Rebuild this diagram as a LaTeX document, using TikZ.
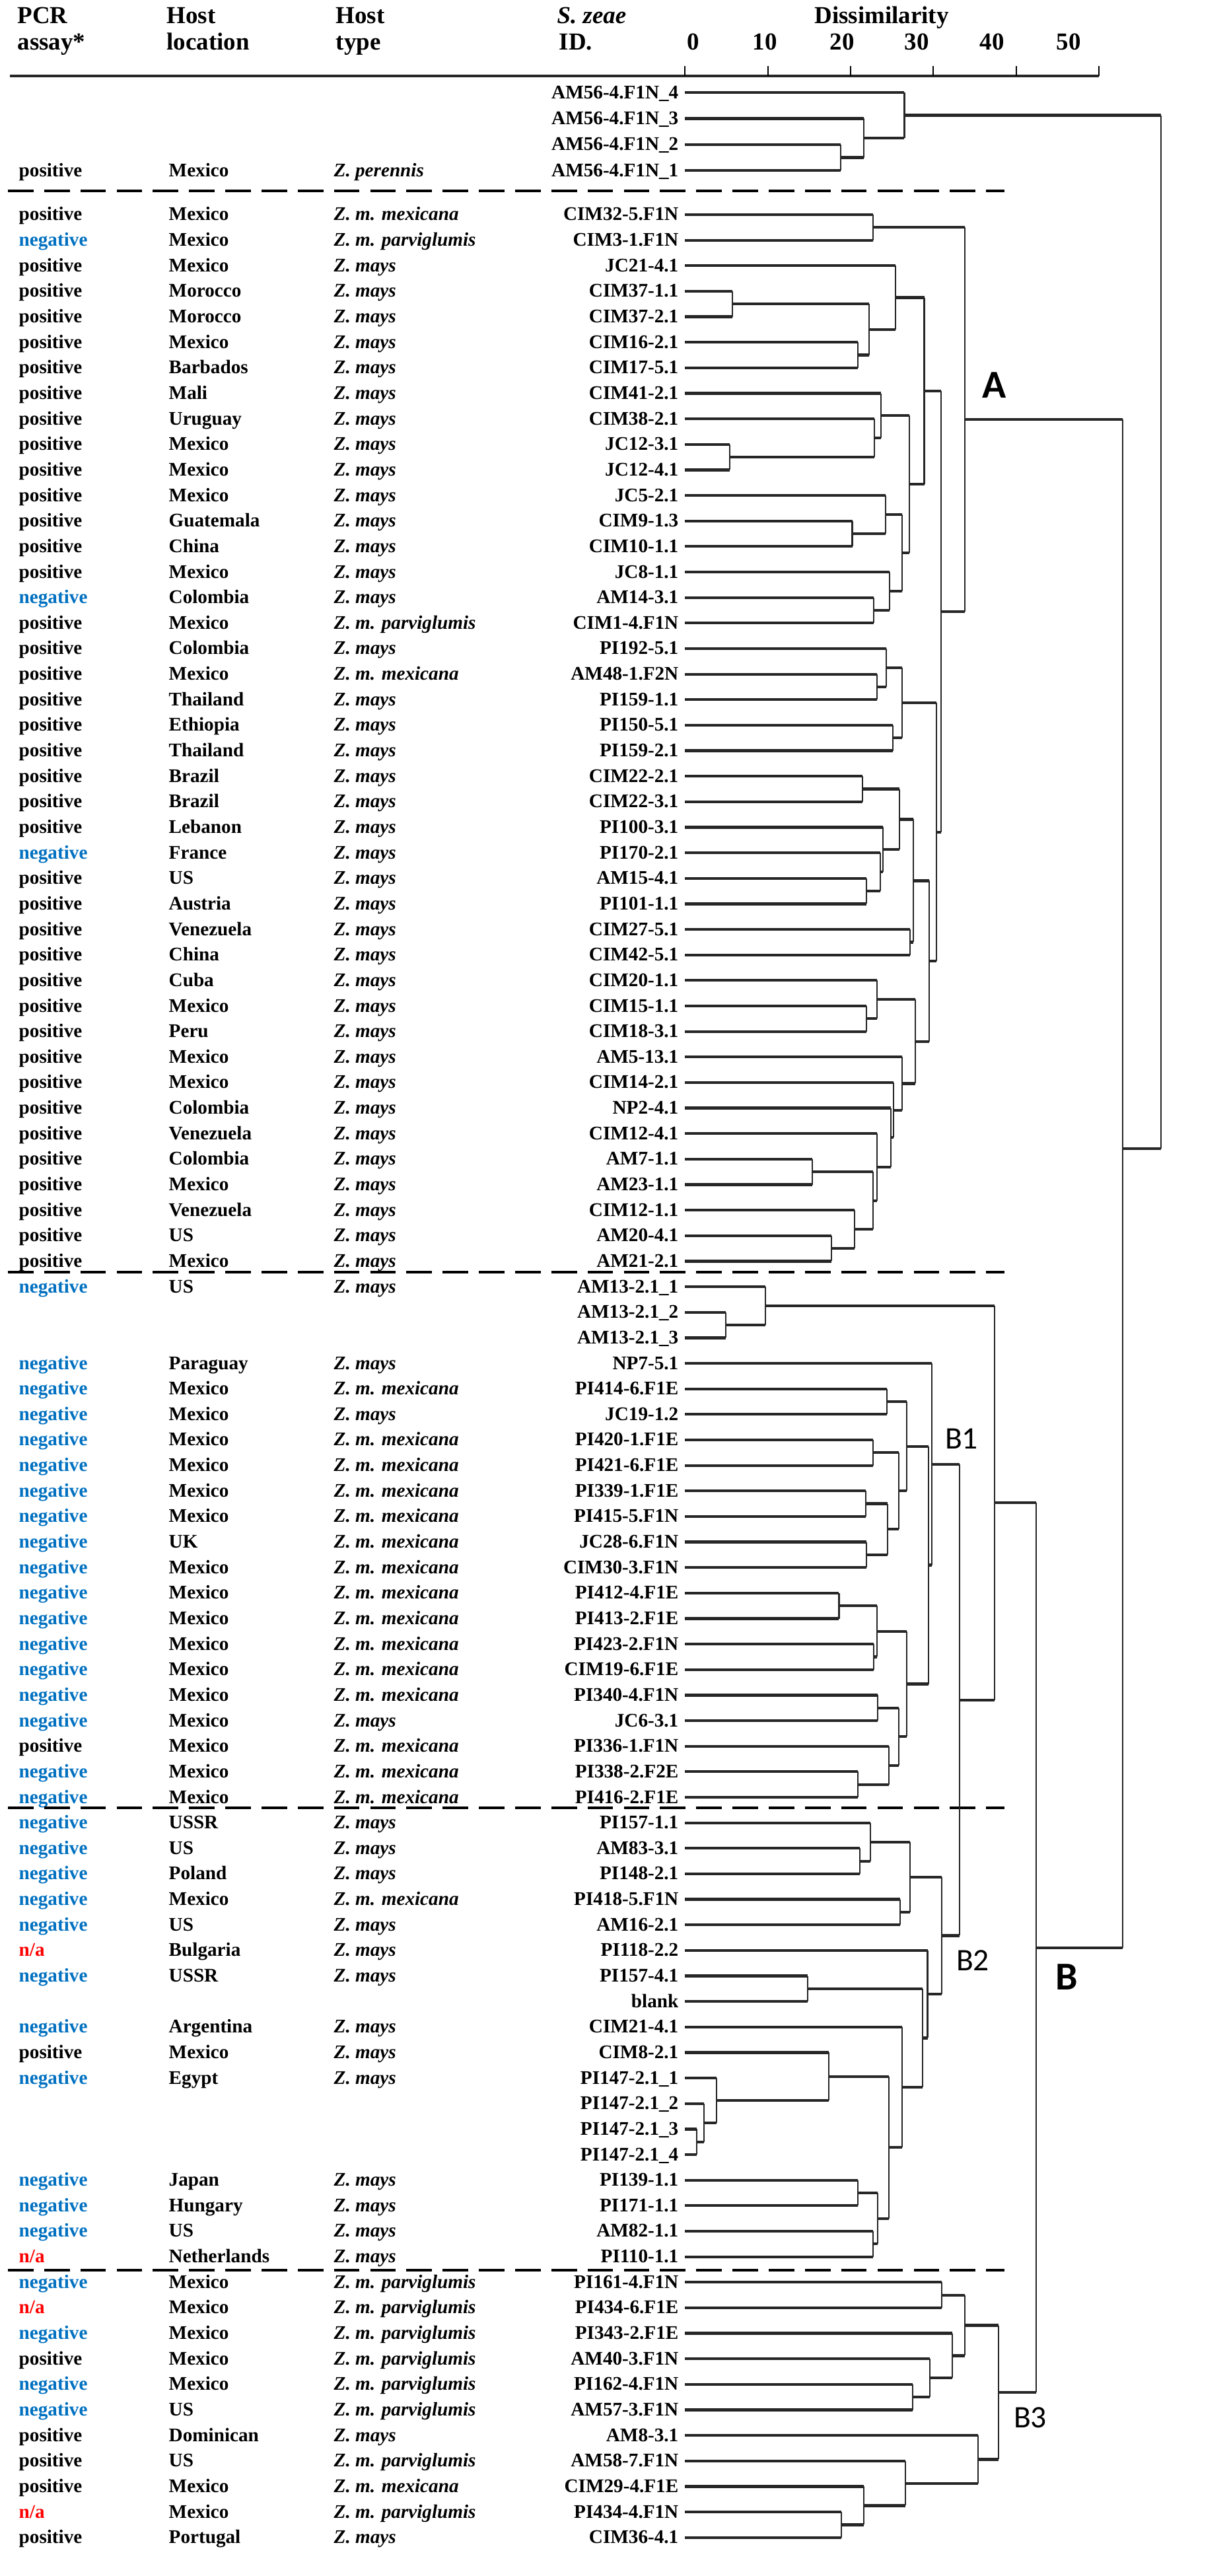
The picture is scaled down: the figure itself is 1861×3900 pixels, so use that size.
\documentclass[tikz,border=0pt]{standalone}
\usepackage{fontspec}
\setmainfont{Liberation Serif}
\newfontfamily\clusterFont{Carlito}
\usepackage{tikz}
\usetikzlibrary{calc}
\tikzstyle{dendro} = [x = 0.01cm, y = -0.01cm]
\definecolor{negBlue}{RGB}{0,112,192}
\definecolor{naRed}{RGB}{255,0,0}
\tikzstyle{branchStyle} = [color=black!85, line width=1.2pt]
\tikzstyle{stemStyle} = [color=black!85, line width=0.6pt]
\tikzstyle{sepLine} = [line width=1.3pt, dash pattern=on 11pt off 4.6pt]
\tikzstyle{axisLine} = [color=black!85, line width=1.4pt]
\tikzstyle{tickLine} = [line width=0.6pt]
\tikzstyle{headText} = [font=\fontsize{10.5}{12}\selectfont\bfseries, inner sep=0pt, anchor=base west]
\tikzstyle{cellText} = [font=\fontsize{8.3}{10}\selectfont\bfseries, inner sep=0pt, anchor=base west]
\tikzstyle{idText} = [cellText, anchor=base east]
\tikzstyle{clusterBig} = [font=\clusterFont\fontsize{17}{20}\selectfont\bfseries]
\tikzstyle{clusterSmall} = [font=\clusterFont\fontsize{13.5}{16}\selectfont]
\newcommand{\ux}[1]{1037.4+12.53*#1}
\newcommand{\assayp}{positive}
\newcommand{\assayn}{\color{negBlue}negative}
\newcommand{\assaya}{\color{naRed}n/a}
\newcommand{\hostm}{\textit{Z. mays}}
\newcommand{\hostx}{\textit{Z. m. mexicana}}
\newcommand{\hostg}{\textit{Z. m. parviglumis}}
\newcommand{\hoste}{\textit{Z. perennis}}
% #2 new cluster, #3 and #4 children, #5 dissimilarity, #1 where the stem is left
\newcommand{\merge}[5][0.5]{
  \coordinate (mid) at ($(#3)!#1!(#4)$);
  \coordinate (col) at ({\ux{#5}},0);
  \coordinate (#2) at (mid -| col);
  \draw [branchStyle] (#3) -- (#3 -| col) (#4 -| col) -- (#4);
  \draw [stemStyle] (#3 -| col) -- (#4 -| col);
}

\begin{document}
\begin{tikzpicture}[dendro]
  \useasboundingbox (0,0) rectangle (1861,3900);

  % header
  \node[headText] (hPcr) at (26,36) {PCR};
  \node[headText] (hAssay) at (26,76) {assay*};
  \node[headText] (hHost) at (252,36) {Host};
  \node[headText] (hLoc) at (252,76) {location};
  \node[headText] (hHostT) at (508,36) {Host};
  \node[headText] (hType) at (508,76) {type};
  \node[headText] (hZeae) at (843,36) {\textit{S. zeae}};
  \node[headText] (hId) at (846,76) {ID.};
  \node[headText, anchor=base] (hDis) at (1335,36) {Dissimilarity};
  \draw [axisLine] (15,115) -- ({\ux{50}},115);
  \foreach \t in {0,10,...,50}
    \draw [tickLine] ({\ux{\t}},100) -- ({\ux{\t}},115);
  \foreach \t/\lx in {0/1050,10/1158,20/1275,30/1388,40/1502,50/1618}
    \node[headText, anchor=base] (num\t) at (\lx,76) {\t};

  % rows
  \foreach \n/\pcr/\loc/\host/\sid in {
    4/p/Mexico/e/AM56-4.F1N\_1,
    5/p/Mexico/x/CIM32-5.F1N,
    6/n/Mexico/g/CIM3-1.F1N,
    7/p/Mexico/m/JC21-4.1,
    8/p/Morocco/m/CIM37-1.1,
    9/p/Morocco/m/CIM37-2.1,
    10/p/Mexico/m/CIM16-2.1,
    11/p/Barbados/m/CIM17-5.1,
    12/p/Mali/m/CIM41-2.1,
    13/p/Uruguay/m/CIM38-2.1,
    14/p/Mexico/m/JC12-3.1,
    15/p/Mexico/m/JC12-4.1,
    16/p/Mexico/m/JC5-2.1,
    17/p/Guatemala/m/CIM9-1.3,
    18/p/China/m/CIM10-1.1,
    19/p/Mexico/m/JC8-1.1,
    20/n/Colombia/m/AM14-3.1,
    21/p/Mexico/g/CIM1-4.F1N,
    22/p/Colombia/m/PI192-5.1,
    23/p/Mexico/x/AM48-1.F2N,
    24/p/Thailand/m/PI159-1.1,
    25/p/Ethiopia/m/PI150-5.1,
    26/p/Thailand/m/PI159-2.1,
    27/p/Brazil/m/CIM22-2.1,
    28/p/Brazil/m/CIM22-3.1,
    29/p/Lebanon/m/PI100-3.1,
    30/n/France/m/PI170-2.1,
    31/p/US/m/AM15-4.1,
    32/p/Austria/m/PI101-1.1,
    33/p/Venezuela/m/CIM27-5.1,
    34/p/China/m/CIM42-5.1,
    35/p/Cuba/m/CIM20-1.1,
    36/p/Mexico/m/CIM15-1.1,
    37/p/Peru/m/CIM18-3.1,
    38/p/Mexico/m/AM5-13.1,
    39/p/Mexico/m/CIM14-2.1,
    40/p/Colombia/m/NP2-4.1,
    41/p/Venezuela/m/CIM12-4.1,
    42/p/Colombia/m/AM7-1.1,
    43/p/Mexico/m/AM23-1.1,
    44/p/Venezuela/m/CIM12-1.1,
    45/p/US/m/AM20-4.1,
    46/p/Mexico/m/AM21-2.1,
    47/n/US/m/AM13-2.1\_1,
    50/n/Paraguay/m/NP7-5.1,
    51/n/Mexico/x/PI414-6.F1E,
    52/n/Mexico/m/JC19-1.2,
    53/n/Mexico/x/PI420-1.F1E,
    54/n/Mexico/x/PI421-6.F1E,
    55/n/Mexico/x/PI339-1.F1E,
    56/n/Mexico/x/PI415-5.F1N,
    57/n/UK/x/JC28-6.F1N,
    58/n/Mexico/x/CIM30-3.F1N,
    59/n/Mexico/x/PI412-4.F1E,
    60/n/Mexico/x/PI413-2.F1E,
    61/n/Mexico/x/PI423-2.F1N,
    62/n/Mexico/x/CIM19-6.F1E,
    63/n/Mexico/x/PI340-4.F1N,
    64/n/Mexico/m/JC6-3.1,
    65/p/Mexico/x/PI336-1.F1N,
    66/n/Mexico/x/PI338-2.F2E,
    67/n/Mexico/x/PI416-2.F1E,
    68/n/USSR/m/PI157-1.1,
    69/n/US/m/AM83-3.1,
    70/n/Poland/m/PI148-2.1,
    71/n/Mexico/x/PI418-5.F1N,
    72/n/US/m/AM16-2.1,
    73/a/Bulgaria/m/PI118-2.2,
    74/n/USSR/m/PI157-4.1,
    76/n/Argentina/m/CIM21-4.1,
    77/p/Mexico/m/CIM8-2.1,
    78/n/Egypt/m/PI147-2.1\_1,
    82/n/Japan/m/PI139-1.1,
    83/n/Hungary/m/PI171-1.1,
    84/n/US/m/AM82-1.1,
    85/a/Netherlands/m/PI110-1.1,
    86/n/Mexico/g/PI161-4.F1N,
    87/a/Mexico/g/PI434-6.F1E,
    88/n/Mexico/g/PI343-2.F1E,
    89/p/Mexico/g/AM40-3.F1N,
    90/n/Mexico/g/PI162-4.F1N,
    91/n/US/g/AM57-3.F1N,
    92/p/Dominican/m/AM8-3.1,
    93/p/US/g/AM58-7.F1N,
    94/p/Mexico/x/CIM29-4.F1E,
    95/a/Mexico/g/PI434-4.F1N,
    96/p/Portugal/m/CIM36-4.1} {
    \pgfmathsetmacro{\ry}{\n<5 ? 258.3-(4-\n)*39.4 : 325+(\n-5)*38.645}
    \node[cellText] (pcr\n) at (28,\ry+9) {\csname assay\pcr\endcsname};
    \node[cellText] (loc\n) at (255,\ry+9) {\loc};
    \node[cellText] (host\n) at (505,\ry+9) {\csname host\host\endcsname};
    \node[idText] (id\n) at (1028,\ry+9) {\sid};
    \coordinate (r\n) at ({\ux{0}},\ry);
  }
  \foreach \n/\sid in {1/AM56-4.F1N\_4, 2/AM56-4.F1N\_3, 3/AM56-4.F1N\_2,
    48/AM13-2.1\_2, 49/AM13-2.1\_3, 75/blank,
    79/PI147-2.1\_2, 80/PI147-2.1\_3, 81/PI147-2.1\_4} {
    \pgfmathsetmacro{\ry}{\n<5 ? 258.3-(4-\n)*39.4 : 325+(\n-5)*38.645}
    \node[idText] (id\n) at (1028,\ry+9) {\sid};
    \coordinate (r\n) at ({\ux{0}},\ry);
  }

  % group separators
  \foreach \sy in {289,1926,2737,3437}
    \draw [sepLine] (12,\sy) -- (1521,\sy);

  % top group
  \merge{t1}{r3}{r4}{18.8}
  \merge{t2}{r2}{t1}{21.6}
  \merge{t3}{r1}{t2}{26.5}

  % cluster A
  \merge{a1}{r5}{r6}{22.7}
  \merge{a2}{r8}{r9}{5.7}
  \merge{a3}{r10}{r11}{20.9}
  \merge{a4}{a2}{a3}{22.2}
  \merge{a5}{r7}{a4}{25.4}
  \merge{a6}{r14}{r15}{5.4}
  \merge{a7}{r13}{a6}{22.9}
  \merge{a8}{r12}{a7}{23.7}
  \merge{a9}{r17}{r18}{20.2}
  \merge{a10}{r16}{a9}{24.2}
  \merge{a11}{r20}{r21}{22.8}
  \merge{a12}{r19}{a11}{24.7}
  \merge{a13}{a10}{a12}{26.2}
  \merge{a14}{a8}{a13}{27.1}
  \merge{a15}{a5}{a14}{28.9}
  \merge{a16}{r23}{r24}{23.2}
  \merge{a17}{r22}{a16}{24.3}
  \merge{a18}{r25}{r26}{25.1}
  \merge{a19}{a17}{a18}{26.2}
  \merge{a20}{r27}{r28}{21.4}
  \merge{a21}{r31}{r32}{21.9}
  \merge{a22}{r30}{a21}{23.6}
  \merge{a23}{r29}{a22}{23.9}
  \merge{a24}{a20}{a23}{25.9}
  \merge{a25}{r33}{r34}{27.2}
  \merge{a26}{a24}{a25}{27.6}
  \merge{a27}{r36}{r37}{21.9}
  \merge{a28}{r35}{a27}{23.2}
  \merge{a29}{r42}{r43}{15.4}
  \merge{a30}{r45}{r46}{17.7}
  \merge{a31}{r44}{a30}{20.5}
  \merge{a32}{a29}{a31}{22.7}
  \merge{a33}{r41}{a32}{23.2}
  \merge{a34}{r40}{a33}{24.9}
  \merge{a35}{r39}{a34}{25.2}
  \merge{a36}{r38}{a35}{26.2}
  \merge{a37}{a28}{a36}{27.8}
  \merge{a38}{a26}{a37}{29.5}
  \merge{a39}{a19}{a38}{30.4}
  \merge{a40}{a15}{a39}{30.9}
  \merge{cA}{a1}{a40}{33.8}

  % cluster B1
  \merge{b1}{r48}{r49}{4.9}
  \merge{b2}{r47}{b1}{9.7}
  \merge{b3}{r51}{r52}{24.4}
  \merge{b4}{r53}{r54}{22.7}
  \merge{b5}{r55}{r56}{21.8}
  \merge{b6}{r57}{r58}{21.9}
  \merge{b7}{b5}{b6}{24.5}
  \merge{b8}{b4}{b7}{25.8}
  \merge{b9}{b3}{b8}{26.8}
  \merge{b10}{r59}{r60}{18.6}
  \merge{b11}{r61}{r62}{22.8}
  \merge{b12}{b10}{b11}{23.2}
  \merge{b13}{r63}{r64}{23.3}
  \merge{b14}{r66}{r67}{20.9}
  \merge{b15}{r65}{b14}{24.6}
  \merge{b16}{b13}{b15}{25.8}
  \merge{b17}{b12}{b16}{26.8}
  \merge{b18}{b9}{b17}{29.4}
  \merge{b19}{r50}{b18}{29.8}

  % cluster B2
  \merge{c1}{r69}{r70}{21.1}
  \merge{c2}{r68}{c1}{22.4}
  \merge{c3}{r71}{r72}{26.0}
  \merge{c4}{c2}{c3}{27.2}
  \merge{c5}{r74}{r75}{14.8}
  \merge{c6}{r80}{r81}{1.4}
  \merge{c7}{r79}{c6}{2.3}
  \merge{c8}{r78}{c7}{3.8}
  \merge{c9}{r77}{c8}{17.4}
  \merge{c10}{r82}{r83}{20.9}
  \merge{c11}{r84}{r85}{22.7}
  \merge{c12}{c10}{c11}{23.3}
  \merge{c13}{c9}{c12}{24.6}
  \merge{c14}{r76}{c13}{26.2}
  \merge{c15}{c5}{c14}{28.7}
  \merge{c16}{r73}{c15}{29.3}
  \merge{c17}{c4}{c16}{31.0}
  \merge{b20}{b19}{c17}{33.2}
  \merge{b21}{b2}{b20}{37.4}

  % cluster B3
  \merge{d1}{r86}{r87}{31.0}
  \merge{d2}{r90}{r91}{27.5}
  \merge{d3}{r89}{d2}{29.6}
  \merge{d4}{r88}{d3}{32.3}
  \merge{d5}{d1}{d4}{33.8}
  \merge{d6}{r95}{r96}{18.9}
  \merge{d7}{r94}{d6}{21.6}
  \merge{d8}{r93}{d7}{26.6}
  \merge{d9}{r92}{d8}{35.4}
  \merge{d10}{d5}{d9}{37.9}

  % top joins
  \merge{cB}{b21}{d10}{42.4}
  \merge[0.477]{cAB}{cA}{cB}{52.9}
  \merge{root}{t3}{cAB}{57.5}

  % cluster names
  \node[clusterBig] (labA) at (1506,583) {A};
  \node[clusterBig] (labB) at (1615,2993) {B};
  \node[clusterSmall] (labB1) at (1456,2178) {B1};
  \node[clusterSmall] (labB2) at (1473,2968) {B2};
  \node[clusterSmall] (labB3) at (1560,3660) {B3};
\end{tikzpicture}
\end{document}
